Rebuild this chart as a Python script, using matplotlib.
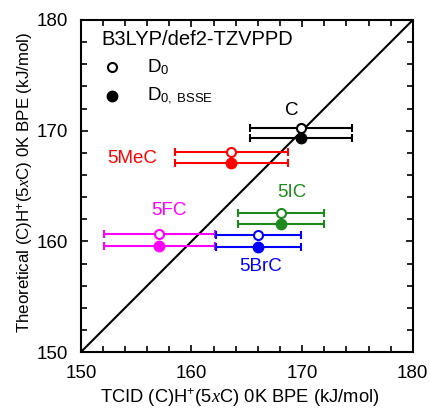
import matplotlib
matplotlib.use("Agg")
import matplotlib.pyplot as plt
from matplotlib.ticker import MultipleLocator

plt.rcParams["font.family"] = ["Liberation Sans", "DejaVu Sans"]
plt.rcParams["mathtext.fontset"] = "custom"
plt.rcParams["mathtext.rm"] = "Liberation Sans"
plt.rcParams["mathtext.it"] = "Liberation Serif:italic"

# TCID (x) vs theoretical (y) BPEs, kJ/mol
names = ["C", "5MeC", "5IC", "5FC", "5BrC"]
colors = ["black", "#ff0000", "#1e8a1e", "#ff00ff", "#0000ff"]
tcid = [169.9, 163.6, 168.1, 157.1, 166.05]
tcid_err = [4.6, 5.1, 3.9, 5.0, 3.85]
d0 = [170.2, 168.1, 162.6, 160.7, 160.6]
d0_bsse = [169.3, 167.1, 161.6, 159.6, 159.5]
label_xy = [(169.1, 171.8), (154.6, 167.5), (169.1, 164.4), (158.0, 162.8), (166.2, 157.7)]

lims = [150, 180]

fig = plt.figure(figsize=(4.3, 4.08), dpi=100)
ax = fig.add_axes([0.188, 0.137, 0.772, 0.814])

ax.plot(lims, lims, color="black", lw=1.5, zorder=1)

for i, name in enumerate(names):
    c = colors[i]
    ax.errorbar(tcid[i], d0[i], xerr=tcid_err[i], fmt="o", color=c, mfc="white",
                mec=c, mew=1.5, ms=6.5, elinewidth=1.5, capsize=3, capthick=1.5, zorder=3)
    ax.errorbar(tcid[i], d0_bsse[i], xerr=tcid_err[i], fmt="o", color=c, mfc=c,
                mec=c, ms=7.5, elinewidth=1.5, capsize=3, capthick=1.5, zorder=3)
    ax.text(label_xy[i][0], label_xy[i][1], name, color=c, fontsize=13.5,
            ha="center", va="center")

# legend drawn by hand
ax.text(0.063, 0.94, "B3LYP/def2-TZVPPD", transform=ax.transAxes, fontsize=14.5,
        ha="left", va="center")
ax.plot([0.093], [0.858], "o", transform=ax.transAxes, mfc="white", mec="black",
        mew=1.5, ms=6.5)
ax.plot([0.093], [0.771], "o", transform=ax.transAxes, mfc="black", mec="black", ms=7.5)
ax.text(0.199, 0.858, r"D$_0$", transform=ax.transAxes, fontsize=13.5,
        ha="left", va="center")
ax.text(0.199, 0.771, r"D$_{0,\ \mathrm{BSSE}}$", transform=ax.transAxes, fontsize=13.5,
        ha="left", va="center")

ax.set_xlim(lims)
ax.set_ylim(lims)
ax.xaxis.set_major_locator(MultipleLocator(10))
ax.yaxis.set_major_locator(MultipleLocator(10))
ax.xaxis.set_minor_locator(MultipleLocator(2))
ax.yaxis.set_minor_locator(MultipleLocator(2))
ax.tick_params(which="both", direction="in", top=True, right=True, width=1.2)
ax.tick_params(which="major", length=5, labelsize=13.5, pad=9)
ax.tick_params(which="minor", length=4)
for s in ax.spines.values():
    s.set_linewidth(1.5)

ax.set_xlabel(r"TCID (C)H$^{+}$(5$x$C) 0K BPE (kJ/mol)", fontsize=13.2, labelpad=3)
ax.set_ylabel(r"Theoretical (C)H$^{+}$(5$x$C) 0K BPE (kJ/mol)", fontsize=12.2, labelpad=1)
ax.xaxis.label.set_x(0.48)
ax.yaxis.label.set_y(0.51)

fig.savefig("out.png", dpi=100)
